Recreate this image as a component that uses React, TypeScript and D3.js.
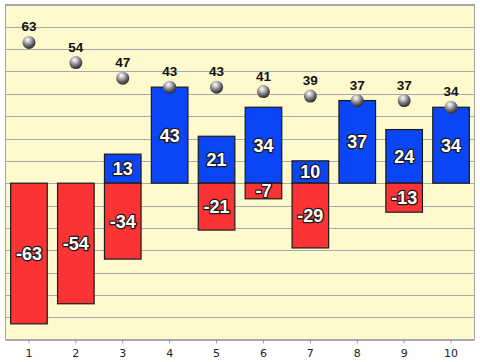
import React from "react";
import * as d3 from "d3";

const categories = ["1", "2", "3", "4", "5", "6", "7", "8", "9", "10"];
const negValues = [-63, -54, -34, 0, -21, -7, -29, 0, -13, 0];
const posValues = [0, 0, 13, 43, 21, 34, 10, 37, 24, 34];
const totals = [63, 54, 47, 43, 43, 41, 39, 37, 37, 34];
const gridTicks = [-70, -60, -50, -40, -30, -20, -10, 0, 10, 20, 30, 40, 50, 60, 70, 80];

const W = 480;
const H = 362;
const left = 5.5;
const right = 474.5;
const top = 4.5;
const bottom = 339.5;

export default function App() {
  const x = d3.scaleBand<string>().domain(categories).range([left, right]).paddingInner(0.22).paddingOuter(0.11);
  const y = d3.scaleLinear().domain([-70, 80]).range([bottom, top]);
  const bw = x.bandwidth();
  const font = "'Liberation Sans', Arial, sans-serif";

  return (
    <svg width={W} height={H} style={{ position: "absolute", left: 0, top: 0, background: "#ffffff" }}>
      <defs>
        <radialGradient id="ball" cx="0.4" cy="0.3" r="0.72">
          <stop offset="0" stopColor="#ffffff" />
          <stop offset="0.22" stopColor="#d0d0d4" />
          <stop offset="0.65" stopColor="#66666c" />
          <stop offset="1" stopColor="#26262a" />
        </radialGradient>
      </defs>
      <rect x={left} y={top} width={right - left} height={bottom - top} fill="#fffacd" stroke="none" />
      {gridTicks.map((t) => (
        <line key={t} x1={left} x2={right} y1={Math.round(y(t)) + 0.5} y2={Math.round(y(t)) + 0.5} stroke="#a8a8b4" strokeWidth={1} />
      ))}
      <rect x={left} y={top} width={right - left} height={bottom - top} fill="none" stroke="#a8a8a8" strokeWidth={1} />
      {categories.map((c) => {
        const cx = (x(c) as number) + bw / 2;
        return (
          <g key={c}>
            <line x1={cx} x2={cx} y1={bottom} y2={bottom + 4} stroke="#999" />
            <text x={cx} y={357} textAnchor="middle" fontSize={11} fontFamily="'DejaVu Sans', Verdana, sans-serif" fill="#222">
              {c}
            </text>
          </g>
        );
      })}
      {categories.map((c, i) => {
        const x0 = x(c) as number;
        const parts: JSX.Element[] = [];
        if (posValues[i] !== 0) {
          parts.push(
            <rect key="p" x={x0} y={y(posValues[i])} width={bw} height={y(0) - y(posValues[i])} fill="#0a46f5" stroke="#1a1a1a" strokeWidth={1.2} />
          );
        }
        if (negValues[i] !== 0) {
          parts.push(
            <rect key="n" x={x0} y={y(0)} width={bw} height={y(negValues[i]) - y(0)} fill="#fa3434" stroke="#1a1a1a" strokeWidth={1.2} />
          );
        }
        return <g key={c}>{parts}</g>;
      })}
      {categories.map((c, i) => {
        const cx = (x(c) as number) + bw / 2;
        const labels: JSX.Element[] = [];
        const st = { paintOrder: "stroke" as const };
        if (posValues[i] !== 0) {
          labels.push(
            <text key="p" x={cx} y={(y(0) + y(posValues[i])) / 2} dy="0.36em" textAnchor="middle" fontSize={18} fontWeight="bold" fontFamily={font} fill="#fff" stroke="#1a1a1a" strokeWidth={2.5} strokeLinejoin="round" style={st}>
              {posValues[i]}
            </text>
          );
        }
        if (negValues[i] !== 0) {
          labels.push(
            <text key="n" x={cx} y={(y(0) + y(negValues[i])) / 2} dy="0.36em" textAnchor="middle" fontSize={18} fontWeight="bold" fontFamily={font} fill="#fff" stroke="#1a1a1a" strokeWidth={2.5} strokeLinejoin="round" style={st}>
              {negValues[i]}
            </text>
          );
        }
        return <g key={c}>{labels}</g>;
      })}
      {categories.map((c, i) => {
        const cx = (x(c) as number) + bw / 2;
        const cy = y(totals[i]);
        return (
          <g key={c}>
            <circle cx={cx} cy={cy} r={6.5} fill="url(#ball)" />
            <text x={cx} y={cy - 11} textAnchor="middle" fontSize={13.5} fontWeight="bold" fontFamily={font} fill="#111">
              {totals[i]}
            </text>
          </g>
        );
      })}
    </svg>
  );
}
